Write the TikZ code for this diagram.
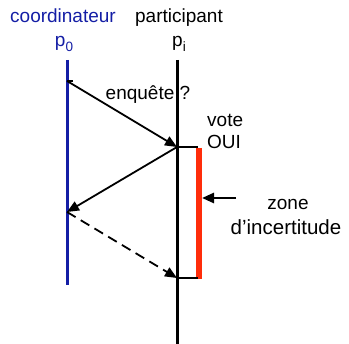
\documentclass[tikz,border=0pt]{standalone}
\usepackage{fontspec}
\setmainfont{Liberation Sans}
\usetikzlibrary{arrows.meta,positioning}
\definecolor{coordblue}{RGB}{20,30,165}
\definecolor{zonered}{RGB}{255,45,10}
\tikzset{
  msg/.style={line width=1.8pt, -{Triangle[length=12pt,width=10pt]}},
  lbl/.style={font=\fontsize{19}{22}\selectfont, inner sep=0pt, anchor=base},
}
\begin{document}
\begin{tikzpicture}[x=1pt, y=-1pt]
% two-phase commit: vote window of the participant
\def\lifew{3pt}
\providecommand{\subidx}[1]{{\fontsize{13.5}{15}\selectfont\raisebox{-5pt}{#1}}}
\useasboundingbox (0,0) rectangle (349,344);
\begin{scope}[line cap=butt]
  % Headers
  \node[lbl, text=coordblue] (coord) at (63,23) {coordinateur};
  \node[lbl] (part) at (179,23) {participant};
  \node[lbl, text=coordblue] (p0) at (64,47) {p\subidx{0}};
  \node[lbl] (pi) at (179,47) {p\subidx{i}};
  % Lifelines
  \coordinate (p0top) at (67,60);
  \coordinate (p0bot) at (67,285);
  \coordinate (pitop) at (177,60);
  \coordinate (pibot) at (177,344);
  \draw[coordblue, line width=\lifew] (p0top) -- (p0bot);
  \draw[black, line width=\lifew] (pitop) -- (pibot);
  % Events
  \coordinate (ask) at (67,81);
  \coordinate (vote) at (177,147);
  \coordinate (back) at (67,212);
  \coordinate (late) at (177,278);
  \coordinate (votetick) at (198,147);
  \coordinate (latetick) at (198,278);
  % Uncertainty window
  \coordinate (zonetop) at (199,148);
  \coordinate (zonebot) at (199,279);
  \draw[zonered, line width=6pt] (zonetop) -- (zonebot);
  \draw[line width=2pt] (vote) -- (votetick);
  \draw[line width=2pt] (late) -- (latetick);
  \draw[line width=2pt] (ask) -- ++(6,0);
  % Messages
  \draw[msg] (ask) -- (vote);
  \draw[msg] (vote) -- (back);
  \draw[msg, dash pattern=on 10pt off 6pt] (back) -- (late);
  % Labels
  \node[lbl] (enq) at (148,100) {enquête ?};
  \node[lbl, anchor=base west] (votelbl) at (207,127) {vote};
  \node[lbl, anchor=base west] (oui) at (207,149) {OUI};
  \node[lbl] (zone) at (288,210) {zone};
  \node[lbl, font=\fontsize{20.5}{24}\selectfont] (incert) at (286,235) {d’incertitude};
  \coordinate (zonetip) at (202,198);
  \coordinate (zonetail) at (236,198);
  \draw[msg, line width=2.6pt] (zonetail) -- (zonetip);
\end{scope}
\end{tikzpicture}
\end{document}
